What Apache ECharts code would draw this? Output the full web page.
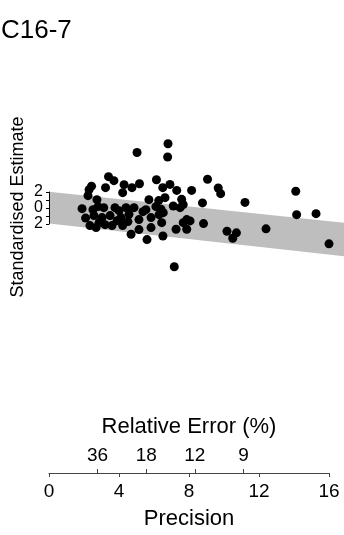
<!DOCTYPE html>
<html>
<head>
<meta charset="utf-8">
<script src="https://cdn.jsdelivr.net/npm/echarts@6/dist/echarts.min.js"></script>
<style>
  html, body { margin: 0; padding: 0; background: #ffffff; }
  #chart { width: 344px; height: 535px; }
</style>
</head>
<body>
<div id="chart"></div>
<script>
// Radial plot of equivalent-dose estimates for one sample
const sampleName = 'C16-7';

// precision (1 / standard error) of each aliquot
const precision = [
  1.89, 2.09, 2.34, 2.29, 2.23, 2.43, 2.74, 2.80, 3.13, 2.57,
  3.03, 3.49, 2.86, 3.20, 3.60, 3.89, 3.23, 3.40, 3.71, 3.77,
  2.51, 2.69, 4.00, 4.29, 4.21, 4.74, 5.17, 4.40, 4.86, 5.54,
  4.11, 4.57, 5.14, 5.83, 4.21, 5.14, 5.83, 4.69, 5.60, 5.71,
  6.27, 6.11, 6.29, 6.14, 6.50, 5.03, 6.80, 6.78, 4.51, 5.37,
  6.91, 7.30, 8.15, 6.63, 7.58, 7.10, 7.49, 6.53, 6.44, 7.67,
  8.06, 8.83, 7.26, 7.87, 6.51, 7.16, 9.06, 8.77, 7.67, 9.67,
  9.81, 11.20, 14.10, 14.15, 15.26, 16.00, 12.40, 10.17, 10.71, 10.50,
  7.87, 6.40
];

// standardised estimate of each aliquot
const stdEstimate = [
  -0.13, -1.31, -2.25, 2.25, 1.50, 2.69, 1.00, 0.13, 0.00, -1.00,
  -1.25, -1.00, -1.88, -2.13, -2.25, -1.63, 2.50, 3.88, 3.38, 0.00,
  -0.25, -2.50, -0.38, 2.88, 1.88, 2.50, 3.00, 0.00, 0.00, -0.25,
  -1.25, -0.84, -1.50, -1.25, -2.25, -2.75, -2.50, -3.34, -4.00, 1.00,
  0.88, 0.13, -0.88, 3.50, 2.50, 6.91, 8.00, 6.34, -1.75, -0.50,
  2.91, 2.16, 2.16, 1.25, 1.04, 0.21, 0.00, -0.63, -1.88, -1.88,
  -1.66, -2.00, -2.71, -2.71, -3.56, -7.41, 3.56, 0.59, 0.38, 2.46,
  1.75, 0.66, 2.06, -0.88, -0.75, -4.54, -2.66, -2.96, -3.16, -3.84,
  -1.50, -0.20
];

// axis ticks
const precisionTicks = [0, 4, 8, 12, 16];
const stdTicks = [-2, 0, 2];
const relErrorTicks = [36, 18, 12, 9];

// +/- 2 band around the central value line
const bandUpper = [[0, 2], [17, -1.94]];
const bandLower = [[0, -2], [17, -6.13]];

const FONT = '"Liberation Sans", Arial, sans-serif';
const chart = echarts.init(document.getElementById('chart'), null, { renderer: 'canvas' });

const points = precision.map((p, i) => [p, stdEstimate[i]]);
const bandPoly = bandUpper.concat(bandLower.slice().reverse());

chart.setOption({
  animation: false,
  backgroundColor: '#ffffff',
  title: {
    text: sampleName,
    left: -4,
    top: 13,
    textStyle: { fontFamily: FONT, fontSize: 26, fontWeight: 'normal', color: '#000' }
  },
  graphic: [
    {
      type: 'text',
      x: 189, y: 427,
      style: {
        text: 'Relative Error (%)',
        textAlign: 'center', textVerticalAlign: 'middle',
        fontFamily: FONT, fontSize: 22, fill: '#000'
      }
    },
    {
      type: 'text',
      rotation: Math.PI / 2,
      x: 18, y: 207,
      style: {
        text: 'Standardised Estimate',
        textAlign: 'center', textVerticalAlign: 'middle',
        fontFamily: FONT, fontSize: 18, fill: '#000'
      }
    }
  ],
  grid: [
    { left: 49, width: 280, top: 60, height: 414 },
    { left: 49, width: 280, top: 192, height: 32 }
  ],
  xAxis: [
    {
      gridIndex: 0, type: 'value', min: 0, max: 16, interval: 4,
      axisLine: { show: true, onZero: false, lineStyle: { color: '#444', width: 1 } },
      axisTick: { show: true, length: 4, lineStyle: { color: '#444' } },
      axisLabel: { show: true, margin: 9, fontFamily: FONT, fontSize: 19, color: '#000',
        customValues: precisionTicks },
      splitLine: { show: false },
      name: 'Precision', nameLocation: 'middle', nameGap: 35,
      nameTextStyle: { fontFamily: FONT, fontSize: 22, color: '#000' }
    },
    {
      gridIndex: 1, type: 'value', min: 0, max: 16, show: false
    },
    {
      gridIndex: 0, type: 'value', min: 0, max: 16, position: 'bottom',
      axisLine: { show: false, onZero: false },
      axisTick: { show: true, inside: true, length: 4, lineStyle: { color: '#444' },
        customValues: relErrorTicks.map(r => 100 / r) },
      axisLabel: { show: true, inside: true, margin: 8, fontFamily: FONT, fontSize: 19, color: '#000',
        customValues: relErrorTicks.map(r => 100 / r),
        formatter: v => String(Math.round(100 / v)) },
      splitLine: { show: false }
    }
  ],
  yAxis: [
    {
      gridIndex: 0, type: 'value', min: -33.25, max: 18.5, show: false
    },
    {
      gridIndex: 1, type: 'value', min: -2, max: 2, interval: 1, z: 10,
      axisLine: { show: true, onZero: false, lineStyle: { color: '#000', width: 1 } },
      axisTick: { show: true, length: 3, lineStyle: { color: '#000' } },
      axisLabel: { show: true, margin: 6, fontFamily: FONT, fontSize: 16, color: '#000',
        customValues: stdTicks, formatter: v => String(Math.abs(v)) },
      splitLine: { show: false }
    }
  ],
  series: [
    {
      type: 'custom',
      xAxisIndex: 0, yAxisIndex: 0,
      clip: false,
      silent: true,
      data: [0],
      renderItem: (params, api) => ({
        type: 'polygon',
        shape: { points: bandPoly.map(pt => api.coord(pt)) },
        style: { fill: '#bebebe', stroke: null }
      }),
      z: 1
    },
    {
      type: 'scatter',
      xAxisIndex: 0, yAxisIndex: 0,
      clip: false,
      symbol: 'circle',
      symbolSize: 9,
      itemStyle: { color: '#000', opacity: 1 },
      data: points,
      z: 3
    }
  ]
});
</script>
</body>
</html>
